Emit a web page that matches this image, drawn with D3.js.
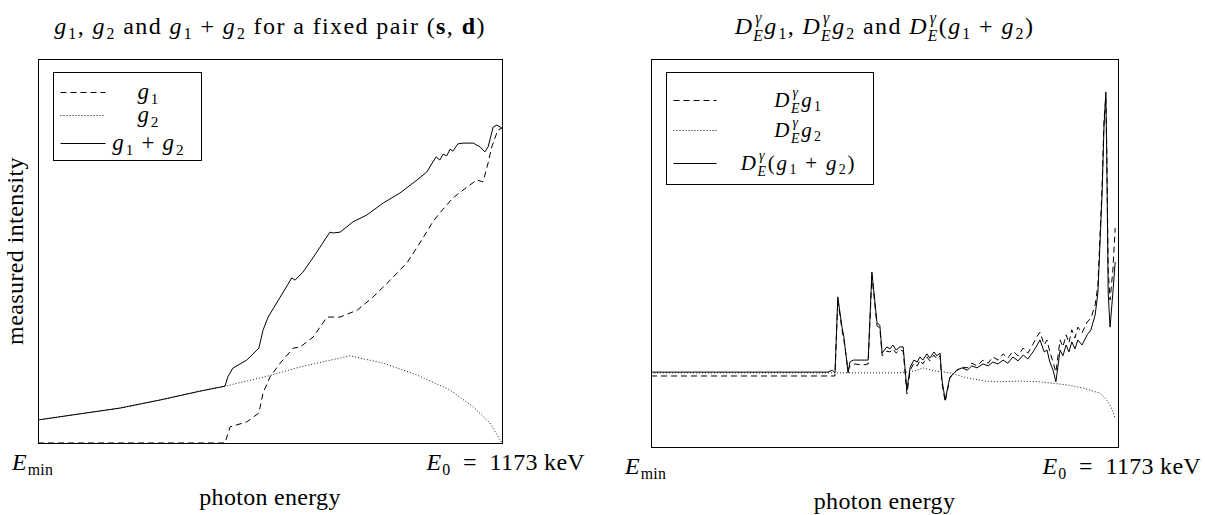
<!DOCTYPE html>
<meta charset="utf-8">
<script src="https://d3js.org/d3.v7.min.js"></script>
<style>
  body { margin: 0; background: #fff; }
  text { font-family: "Liberation Serif", "DejaVu Serif", serif; fill: #000; white-space: pre; }
</style>
<div id="my_dataviz"></div>
<script>

  // ---- data (energy normalised: 0 = E_min, 1 = E0 ; intensity in arbitrary units) ----
  // left panel: g1, g2, g1+g2
  var g1X = [0, 0.403, 0.414, 0.450, 0.476, 0.485, 0.500, 0.522, 0.550, 0.565, 0.593, 0.623, 0.651, 0.688, 0.722, 0.759, 0.795, 0.823, 0.851, 0.866, 0.894, 0.925, 0.946, 0.959, 0.970, 0.978, 0.991, 1.0];
  var g1Y = [0, 0, 0.042, 0.055, 0.078, 0.130, 0.172, 0.208, 0.247, 0.250, 0.276, 0.328, 0.328, 0.346, 0.380, 0.424, 0.469, 0.521, 0.576, 0.599, 0.638, 0.667, 0.685, 0.680, 0.729, 0.771, 0.815, 0.820];

  var g2X = [0, 0.091, 0.177, 0.263, 0.349, 0.403, 0.494, 0.565, 0.672, 0.744, 0.817, 0.888, 0.938, 0.974, 1.0];
  var g2Y = [0.060, 0.076, 0.091, 0.112, 0.135, 0.148, 0.174, 0.198, 0.227, 0.208, 0.177, 0.138, 0.094, 0.052, 0];

  var sumX = [0, 0.091, 0.177, 0.263, 0.349, 0.403, 0.409, 0.420, 0.450, 0.476, 0.485, 0.496, 0.522, 0.547, 0.554, 0.571, 0.597, 0.629, 0.636, 0.651, 0.679, 0.709, 0.744, 0.780, 0.817, 0.838, 0.851, 0.858, 0.866, 0.873, 0.881, 0.888, 0.894, 0.905, 0.916, 0.938, 0.953, 0.963, 0.970, 0.981, 0.989, 1.0];
  var sumY = [0.060, 0.076, 0.091, 0.112, 0.135, 0.148, 0.172, 0.195, 0.216, 0.247, 0.294, 0.328, 0.380, 0.430, 0.424, 0.445, 0.490, 0.549, 0.547, 0.549, 0.576, 0.594, 0.625, 0.651, 0.685, 0.706, 0.732, 0.745, 0.737, 0.752, 0.748, 0.765, 0.760, 0.779, 0.781, 0.781, 0.771, 0.758, 0.771, 0.823, 0.828, 0.820];

  // right panel: D g1, D g2, D (g1+g2)
  var dSumX = [0, 0.379, 0.388, 0.394, 0.400, 0.409, 0.413, 0.422, 0.426, 0.433, 0.465, 0.473, 0.484, 0.490, 0.495, 0.505, 0.512, 0.518, 0.525, 0.533, 0.540, 0.548, 0.555, 0.563, 0.570, 0.576, 0.582, 0.591, 0.597, 0.606, 0.612, 0.619, 0.623, 0.630, 0.640, 0.655, 0.666, 0.677, 0.687, 0.698, 0.711, 0.722, 0.732, 0.743, 0.754, 0.764, 0.775, 0.786, 0.797, 0.807, 0.818, 0.827, 0.833, 0.842, 0.848, 0.854, 0.861, 0.867, 0.876, 0.882, 0.889, 0.895, 0.901, 0.908, 0.914, 0.923, 0.934, 0.942, 0.951, 0.957, 0.966, 0.970, 0.974, 0.976, 0.979, 0.983, 0.989, 0.994];
  var dSumY = [0.193, 0.193, 0.198, 0.191, 0.387, 0.309, 0.284, 0.191, 0.219, 0.224, 0.224, 0.451, 0.320, 0.314, 0.242, 0.258, 0.253, 0.263, 0.250, 0.258, 0.258, 0.147, 0.206, 0.224, 0.219, 0.232, 0.224, 0.240, 0.229, 0.245, 0.235, 0.242, 0.173, 0.121, 0.180, 0.198, 0.204, 0.198, 0.209, 0.204, 0.214, 0.209, 0.219, 0.214, 0.224, 0.216, 0.232, 0.222, 0.237, 0.227, 0.245, 0.263, 0.276, 0.245, 0.250, 0.219, 0.198, 0.168, 0.250, 0.235, 0.263, 0.245, 0.271, 0.253, 0.276, 0.263, 0.289, 0.302, 0.340, 0.397, 0.655, 0.825, 0.915, 0.740, 0.397, 0.309, 0.397, 0.477];

  var dg1X = [0, 0.394, 0.400, 0.409, 0.413, 0.422, 0.426, 0.437, 0.452, 0.465, 0.473, 0.484, 0.490, 0.495, 0.505, 0.512, 0.518, 0.525, 0.533, 0.540, 0.548, 0.555, 0.563, 0.570, 0.576, 0.582, 0.591, 0.597, 0.606, 0.612, 0.619, 0.623, 0.630, 0.640, 0.655, 0.666, 0.677, 0.687, 0.698, 0.711, 0.722, 0.732, 0.743, 0.754, 0.764, 0.775, 0.786, 0.797, 0.807, 0.818, 0.827, 0.833, 0.842, 0.848, 0.854, 0.861, 0.867, 0.876, 0.882, 0.889, 0.895, 0.901, 0.908, 0.914, 0.923, 0.934, 0.942, 0.951, 0.957, 0.966, 0.970, 0.974, 0.976, 0.979, 0.983, 0.989, 0.994];
  var dg1Y = [0.183, 0.183, 0.379, 0.302, 0.276, 0.198, 0.209, 0.214, 0.211, 0.214, 0.441, 0.312, 0.307, 0.235, 0.247, 0.245, 0.253, 0.242, 0.250, 0.247, 0.137, 0.198, 0.216, 0.209, 0.224, 0.214, 0.232, 0.222, 0.237, 0.227, 0.235, 0.165, 0.116, 0.178, 0.198, 0.206, 0.204, 0.216, 0.209, 0.224, 0.216, 0.232, 0.224, 0.240, 0.229, 0.247, 0.235, 0.255, 0.242, 0.265, 0.286, 0.296, 0.263, 0.276, 0.245, 0.219, 0.193, 0.276, 0.258, 0.289, 0.268, 0.302, 0.281, 0.309, 0.294, 0.322, 0.332, 0.366, 0.418, 0.675, 0.843, 0.902, 0.765, 0.456, 0.379, 0.456, 0.564];

  var dg2X = [0, 0.394, 0.533, 0.565, 0.582, 0.608, 0.640, 0.677, 0.715, 0.747, 0.790, 0.833, 0.891, 0.925, 0.961, 0.976, 0.985, 0.994];
  var dg2Y = [0.191, 0.191, 0.191, 0.196, 0.204, 0.196, 0.191, 0.178, 0.170, 0.168, 0.170, 0.168, 0.160, 0.152, 0.139, 0.121, 0.103, 0.075];

  var FS = 24;

  var svg = d3.select("#my_dataviz")
    .append("svg")
    .attr("width", 1205)
    .attr("height", 515);

  // one <text> with tspans for a bit of maths: parts are {t, i (italic), b (bold), sub, sup}
  function mathText(g, x, y, parts, anchor, size, ls) {
    var t = g.append("text")
      .attr("x", x).attr("y", y)
      .attr("text-anchor", anchor)
      .attr("xml:space", "preserve")
      .style("font-size", size + "px")
      .style("letter-spacing", (ls || 0) + "px");
    var small = size * 0.66;
    var cur = 0, pend = 0;
    parts.forEach(function (p) {
      var both = p.sup !== undefined && p.sub !== undefined;
      var up = size * 0.44, down = both ? size * 0.31 : size * 0.22;
      if (p.t !== undefined) {
        t.append("tspan")
          .attr("dx", pend).attr("dy", -cur)
          .style("font-style", p.i ? "italic" : "normal")
          .style("font-weight", p.b ? "bold" : "normal")
          .text(p.t);
        cur = 0;
        pend = p.i ? size * 0.03 : 0;
      }
      var supW = 0;
      if (p.sup !== undefined) {
        var s = t.append("tspan")
          .attr("dx", pend + size * 0.04).attr("dy", -up - cur)
          .style("font-size", small + "px")
          .style("font-style", p.supI ? "italic" : "normal")
          .text(p.sup);
        cur = -up;
        supW = s.node().getComputedTextLength() + size * 0.04;
        pend = 0;
      }
      if (p.sub !== undefined) {
        var back = both ? -supW - size * 0.04 : pend;
        var b = t.append("tspan")
          .attr("dx", back).attr("dy", down - cur)
          .style("font-size", small + "px")
          .style("font-style", p.subI ? "italic" : "normal")
          .text(p.sub);
        cur = down;
        var subW = b.node().getComputedTextLength();
        pend = both ? Math.max(0, supW - (subW - size * 0.08)) : 0;
      }
    });
    return t;
  }

  var g1Parts = [{ t: "g", i: 1, sub: "1" }];
  var g2Parts = [{ t: "g", i: 1, sub: "2" }];
  var sumParts = [{ t: "g", i: 1, sub: "1" }, { t: " + " }, { t: "g", i: 1, sub: "2" }];
  var D = { t: "D", i: 1, sup: "γ", supI: 1, sub: "E", subI: 1 };
  var dg1Parts = [D, { t: "g", i: 1, sub: "1" }];
  var dg2Parts = [D, { t: "g", i: 1, sub: "2" }];
  var dSumParts = [D, { t: "(" }, { t: "g", i: 1, sub: "1" }, { t: " + " }, { t: "g", i: 1, sub: "2" }, { t: ")" }];

  function panel(opt) {
    var g = svg.append("g").attr("transform", "translate(" + opt.left + "," + opt.top + ")");
    var x = d3.scaleLinear().domain([0, 1]).range([0, opt.w]);
    var y = d3.scaleLinear().domain([0, 1]).range([opt.h, 0]);

    var line = d3.line()
      .x(function (d) { return x(d[0]); })
      .y(function (d) { return y(d[1]); });

    opt.series.forEach(function (s) {
      g.append("path")
        .datum(d3.zip(s.x, s.y))
        .attr("fill", "none")
        .attr("stroke", "#000")
        .attr("stroke-width", s.dash === "1,2" ? 0.9 : 1)
        .attr("stroke-dasharray", s.dash)
        .attr("d", line);
    });

    // frame
    g.append("rect")
      .attr("x", 0.5).attr("y", 0.5)
      .attr("width", opt.w).attr("height", opt.h)
      .attr("fill", "none").attr("stroke", "#000").attr("stroke-width", 1);

    // legend
    var lg = g.append("g").attr("transform", "translate(15.5,13.5)");
    lg.append("rect").attr("width", opt.legW).attr("height", opt.legH)
      .attr("fill", "#fff").attr("stroke", "#000");
    opt.series.forEach(function (s, i) {
      var ry = opt.legRows[i];
      lg.append("line").attr("x1", 7).attr("x2", opt.sampleW)
        .attr("y1", ry).attr("y2", ry)
        .attr("stroke", "#000").attr("stroke-dasharray", s.dash);
      mathText(lg, opt.legTextX, ry + 6, s.label, "middle", opt.legFS, opt.legLS);
    });

    // title
    mathText(g, opt.w / 2, -25, opt.title, "middle", FS, 1.4);

    // x tick labels
    mathText(g, -26, opt.h + 27, [{ t: "E", i: 1, sub: "min" }], "start", FS, 0.3);
    mathText(g, opt.w + 83, opt.h + 27,
      [{ t: "E", i: 1, sub: "0" }, { t: "  =  1173 keV" }], "end", FS, 0.3);

    g.append("text")
      .attr("x", opt.w / 2).attr("y", opt.h + 62)
      .attr("text-anchor", "middle")
      .style("font-size", FS + "px")
      .style("letter-spacing", "0.3px")
      .text("photon energy");

    if (opt.ylabel) {
      g.append("text")
        .attr("transform", "translate(-15," + (opt.h / 2) + ") rotate(-90)")
        .attr("text-anchor", "middle")
        .style("font-size", FS + "px")
        .style("letter-spacing", "0.4px")
        .text(opt.ylabel);
    }
  }

  panel({
    left: 38, top: 59, w: 464, h: 384,
    title: [{ t: "g", i: 1, sub: "1" }, { t: ", " }, { t: "g", i: 1, sub: "2" }, { t: " and " },
      { t: "g", i: 1, sub: "1" }, { t: " + " }, { t: "g", i: 1, sub: "2" }, { t: " for a fixed pair (" },
      { t: "s", b: 1 }, { t: ", " }, { t: "d", b: 1 }, { t: ")" }],
    ylabel: "measured intensity",
    legW: 148, legH: 88, sampleW: 52, legTextX: 95, legRows: [20, 43, 71], legFS: 23, legLS: 1.2,
    series: [
      { x: g1X, y: g1Y, dash: "6,4", label: g1Parts },
      { x: g2X, y: g2Y, dash: "1,2", label: g2Parts },
      { x: sumX, y: sumY, dash: null, label: sumParts }
    ]
  });

  panel({
    left: 651, top: 59, w: 467, h: 388,
    title: [D, { t: "g", i: 1, sub: "1" }, { t: ", " }, D, { t: "g", i: 1, sub: "2" }, { t: " and " },
      D, { t: "(" }, { t: "g", i: 1, sub: "1" }, { t: " + " }, { t: "g", i: 1, sub: "2" }, { t: ")" }],
    ylabel: null,
    legW: 207, legH: 112, sampleW: 50, legTextX: 132, legRows: [28, 58, 91], legFS: 21, legLS: 1.8,
    series: [
      { x: dg1X, y: dg1Y, dash: "6,4", label: dg1Parts },
      { x: dg2X, y: dg2Y, dash: "1,2", label: dg2Parts },
      { x: dSumX, y: dSumY, dash: null, label: dSumParts }
    ]
  });

</script>
